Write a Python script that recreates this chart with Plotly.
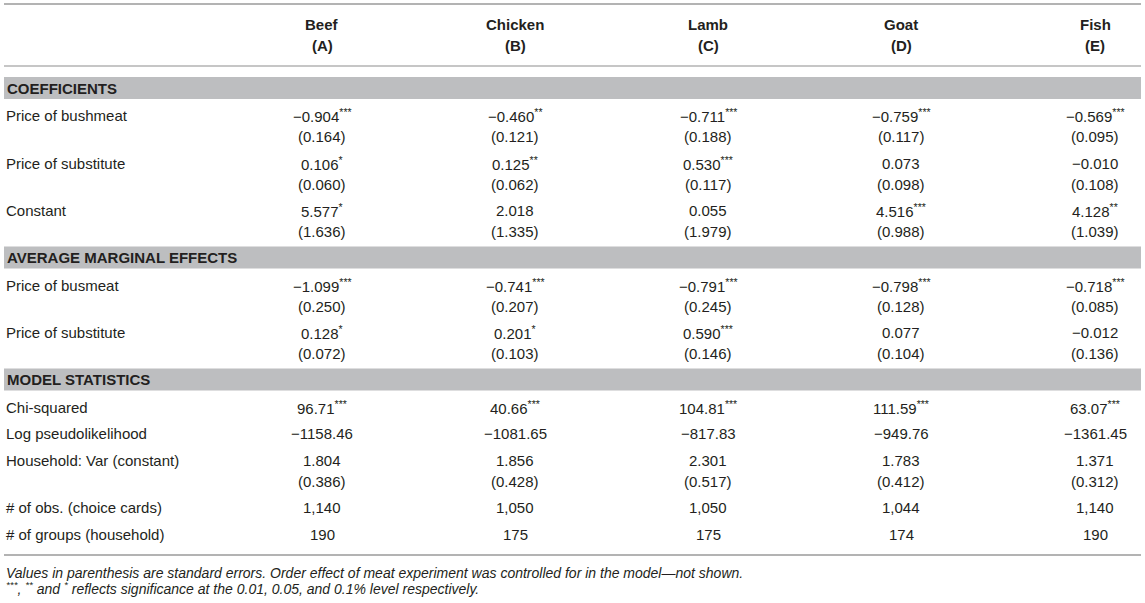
import plotly.graph_objects as go

MINUS = "\u2212"

meats = ["Beef", "Chicken", "Lamb", "Goat", "Fish"]
meat_codes = ["(A)", "(B)", "(C)", "(D)", "(E)"]

section_titles = ["COEFFICIENTS", "AVERAGE MARGINAL EFFECTS", "MODEL STATISTICS"]

# coefficients
coef_bushmeat = [-0.904, -0.460, -0.711, -0.759, -0.569]
coef_bushmeat_se = [0.164, 0.121, 0.188, 0.117, 0.095]
coef_bushmeat_sig = ["***", "**", "***", "***", "***"]

coef_substitute = [0.106, 0.125, 0.530, 0.073, -0.010]
coef_substitute_se = [0.060, 0.062, 0.117, 0.098, 0.108]
coef_substitute_sig = ["*", "**", "***", "", ""]

constant = [5.577, 2.018, 0.055, 4.516, 4.128]
constant_se = [1.636, 1.335, 1.979, 0.988, 1.039]
constant_sig = ["*", "", "", "***", "**"]

# average marginal effects
ame_bushmeat = [-1.099, -0.741, -0.791, -0.798, -0.718]
ame_bushmeat_se = [0.250, 0.207, 0.245, 0.128, 0.085]
ame_bushmeat_sig = ["***", "***", "***", "***", "***"]

ame_substitute = [0.128, 0.201, 0.590, 0.077, -0.012]
ame_substitute_se = [0.072, 0.103, 0.146, 0.104, 0.136]
ame_substitute_sig = ["*", "*", "***", "", ""]

# model statistics
chi_squared = [96.71, 40.66, 104.81, 111.59, 63.07]
chi_squared_sig = ["***", "***", "***", "***", "***"]
log_pseudolikelihood = [-1158.46, -1081.65, -817.83, -949.76, -1361.45]
household_var = [1.804, 1.856, 2.301, 1.783, 1.371]
household_var_se = [0.386, 0.428, 0.517, 0.412, 0.312]
n_obs = [1140, 1050, 1050, 1044, 1140]
n_groups = [190, 175, 175, 174, 190]

footnotes = [
    "Values in parenthesis are standard errors. Order effect of meat experiment "
    "was controlled for in the model\u2014not shown.",
    "<sup>***</sup>, <sup>**</sup> and <sup>*</sup> reflects significance at the "
    "0.01, 0.05, and 0.1% level respectively.",
]


def num(v, dec):
    s = f"{abs(v):.{dec}f}"
    return (MINUS if v < 0 else "") + s


def with_sig(values, sigs, dec):
    return [num(v, dec) + (f"<sup>{s}</sup>" if s else "") for v, s in zip(values, sigs)]


def se_text(values, dec=3):
    return [f"({v:.{dec}f})" for v in values]


no_sig = [""] * len(meats)

sections = [
    [
        ("Price of bushmeat", [with_sig(coef_bushmeat, coef_bushmeat_sig, 3), se_text(coef_bushmeat_se)]),
        ("Price of substitute", [with_sig(coef_substitute, coef_substitute_sig, 3), se_text(coef_substitute_se)]),
        ("Constant", [with_sig(constant, constant_sig, 3), se_text(constant_se)]),
    ],
    [
        ("Price of busmeat", [with_sig(ame_bushmeat, ame_bushmeat_sig, 3), se_text(ame_bushmeat_se)]),
        ("Price of substitute", [with_sig(ame_substitute, ame_substitute_sig, 3), se_text(ame_substitute_se)]),
    ],
    [
        ("Chi-squared", [with_sig(chi_squared, chi_squared_sig, 2)]),
        ("Log pseudolikelihood", [with_sig(log_pseudolikelihood, no_sig, 2)]),
        ("Household: Var (constant)", [with_sig(household_var, no_sig, 3), se_text(household_var_se)]),
        ("# of obs. (choice cards)", [[f"{v:,}" for v in n_obs]]),
        ("# of groups (household)", [[f"{v}" for v in n_groups]]),
    ],
]

# layout (pixels)
W, H = 1145, 603
LEFT, RIGHT = 4, 1141
COL_X = [322, 515, 708, 901, 1095]
LINE_GAP = 21
ROW_STEP = 26.5
BAND_H = 22
TEXT = "#231f20"
BAND = "#bdbec0"
RULE = "#b3b3b3"
FONT = "Liberation Sans, Arial, Helvetica, sans-serif"

fig = go.Figure()
annotations = []
shapes = []


def add_text(x, y, text, anchor="center", size=15, bold=False, italic=False):
    if bold:
        text = f"<b>{text}</b>"
    if italic:
        text = f"<i>{text}</i>"
    annotations.append(dict(
        x=x, y=y, xref="x", yref="y", text=text, showarrow=False,
        xanchor=anchor, yanchor="middle",
        font=dict(family=FONT, size=size, color=TEXT),
    ))


def add_rule(y, width):
    shapes.append(dict(type="line", xref="x", yref="y", x0=LEFT, x1=RIGHT, y0=y, y1=y,
                       line=dict(color=RULE, width=width)))


# header
add_rule(4, 2)
for x, name, code in zip(COL_X, meats, meat_codes):
    add_text(x, 24, name, bold=True)
    add_text(x, 24 + LINE_GAP, code, bold=True)
add_rule(66, 1.5)

band_top = 77
last = band_top
for title, rows in zip(section_titles, sections):
    shapes.append(dict(type="rect", xref="x", yref="y", x0=LEFT, x1=RIGHT,
                       y0=band_top, y1=band_top + BAND_H, fillcolor=BAND, line=dict(width=0),
                       layer="below"))
    add_text(LEFT + 1, band_top + BAND_H / 2, title, anchor="left", bold=True)
    y = band_top + BAND_H + 16.5
    for label, lines in rows:
        add_text(LEFT, y, label, anchor="left")
        for i, cells in enumerate(lines):
            for x, cell in zip(COL_X, cells):
                add_text(x, y + i * LINE_GAP, cell)
        last = y + (len(lines) - 1) * LINE_GAP
        y = last + ROW_STEP
    band_top = last + 15

add_rule(last + 21, 2)

for i, note in enumerate(footnotes):
    add_text(LEFT, last + 38.5 + i * 15, note, anchor="left", size=14, italic=True)

fig.add_trace(go.Scatter(x=[0, W], y=[0, H], mode="markers", marker=dict(opacity=0),
                         hoverinfo="skip", showlegend=False))

fig.update_layout(
    width=W, height=H,
    margin=dict(l=0, r=0, t=0, b=0),
    paper_bgcolor="white", plot_bgcolor="white",
    xaxis=dict(range=[0, W], visible=False, fixedrange=True),
    yaxis=dict(range=[H, 0], visible=False, fixedrange=True),
    annotations=annotations,
    shapes=shapes,
    showlegend=False,
)

fig.write_html("out.html", config={"displayModeBar": False},
               post_script="document.body.style.margin='0';")
